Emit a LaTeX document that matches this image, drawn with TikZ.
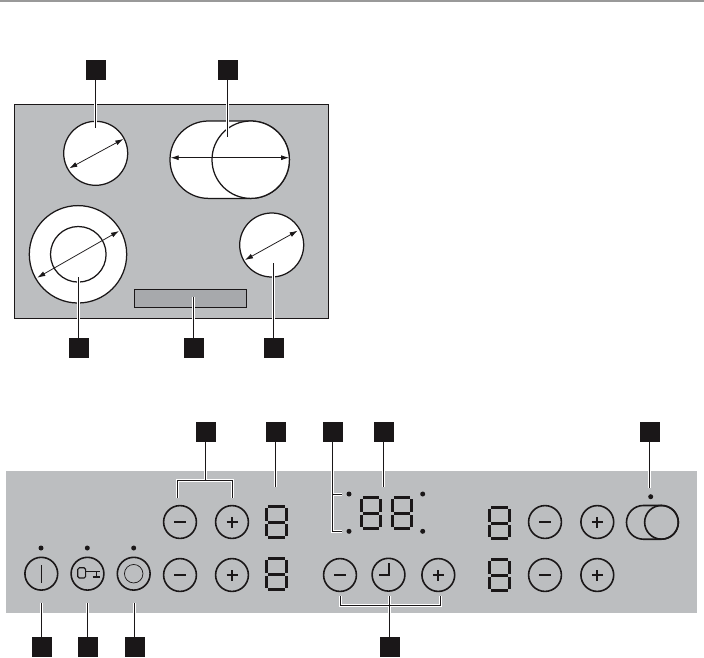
\documentclass[tikz,border=0pt]{standalone}
\usepackage{tikz}
\usetikzlibrary{arrows.meta}

\definecolor{panelgray}{HTML}{BCBEC0}
\definecolor{slotgray}{HTML}{A7A9AC}
\definecolor{rulegray}{HTML}{999999}
\definecolor{inkdark}{HTML}{1A1718}

\tikzset{
  callout/.style={draw=none, fill=inkdark, minimum size=20pt, inner sep=0pt, outer sep=0pt},
  zone/.style={circle, draw=inkdark, line width=1.25pt, fill=white, inner sep=0pt, outer sep=0pt},
  roundkey/.style={circle, draw=inkdark, line width=1.6pt, minimum size=32.8pt, inner sep=0pt, outer sep=0pt},
  minuskey/.style={roundkey, path picture={
    \draw[inkdark, line width=2pt] ([xshift=-5.7pt]path picture bounding box.center) -- ([xshift=5.7pt]path picture bounding box.center);}},
  pluskey/.style={roundkey, path picture={
    \draw[inkdark, line width=1.8pt] ([xshift=-5.5pt]path picture bounding box.center) -- ([xshift=5.5pt]path picture bounding box.center);
    \draw[inkdark, line width=1.8pt] ([yshift=-5.5pt]path picture bounding box.center) -- ([yshift=5.5pt]path picture bounding box.center);}},
  lamp/.style={circle, fill=inkdark, minimum size=5pt, inner sep=0pt, outer sep=0pt},
  leader/.style={draw=inkdark, line width=1pt, preaction={draw=white, line width=2.8pt}},
  sizearrow/.style={{Latex[length=8pt,width=5pt]}-{Latex[length=8pt,width=5pt]}, draw=inkdark, line width=0.75pt},
  digitface/.pic={
    \draw[inkdark, line width=2.6pt]
      (3,1.5) -- (20,1.5) (3,17.5) -- (20,17.5) (3,32.5) -- (20,32.5)
      (1.5,3) -- (1.5,15.5) (21.5,3) -- (21.5,15.5) (1.5,19) -- (1.5,31) (21.5,19) -- (21.5,31);
  }
}

\begin{document}
\begin{tikzpicture}[x=1pt, y=-1pt]
\useasboundingbox (0,0) rectangle (704,657);

% Rule along the top of the page
\fill[rulegray] (0,0) rectangle (704,2);

% Upper drawing: the glass surface and its zones
\draw[draw=inkdark, line width=1pt, fill=panelgray] (14.5,104.5) rectangle (328.5,318.5);
\draw[draw=inkdark, line width=1.25pt, fill=white, rounded corners=38.5pt] (170,121) rectangle (289.4,198.4);
\node[zone, minimum size=77.4pt] (zoneOval) at (250.7,159.7) {};
\node[zone, minimum size=64pt] (zoneSmallA) at (95.7,153.3) {};
\node[zone, minimum size=64pt] (zoneSmallB) at (271.7,245) {};
\node[zone, minimum size=97.4pt] (zoneBig) at (78,254.3) {};
\node[zone, minimum size=55.6pt] (zoneInner) at (78.3,254.3) {};
\node[draw=inkdark, line width=1pt, fill=slotgray, minimum width=112pt, minimum height=18pt, inner sep=0pt] (slot) at (190.5,298.5) {};

% Size arrows inside the zones
\coordinate (arrA1) at (69.3,168.3);
\coordinate (arrA2) at (123.3,139);
\coordinate (arrB1) at (170.7,157.7);
\coordinate (arrB2) at (289,157.7);
\coordinate (arrC1) at (37.3,277.7);
\coordinate (arrC2) at (119,231);
\coordinate (arrD1) at (245,260);
\coordinate (arrD2) at (297.7,230.7);
\draw[sizearrow] (arrA1) -- (arrA2);
\draw[sizearrow] (arrB1) -- (arrB2);
\draw[sizearrow] (arrC1) -- (arrC2);
\draw[sizearrow] (arrD1) -- (arrD2);

% Callouts of the upper drawing
\node[callout] (markA) at (95.5,70) {};
\node[callout] (markB) at (227.5,70) {};
\node[callout] (markC) at (78.5,348) {};
\node[callout] (markD) at (193.5,348) {};
\node[callout] (markE) at (273.5,348) {};
\coordinate (endA) at (95.5,127.7);
\coordinate (endB) at (227.5,136.7);
\coordinate (endC) at (78.5,276.7);
\coordinate (endD) at (193.5,296.7);
\coordinate (endE) at (273.5,263.3);
\draw[leader] (markA) -- (endA);
\draw[leader] (markB) -- (endB);
\draw[leader] (markC) -- (endC);
\draw[leader] (markD) -- (endD);
\draw[leader] (markE) -- (endE);

% Lower drawing: the control panel
\fill[panelgray] (6,471) rectangle (697,613);

% Left hand keys
\node[roundkey] (keyOn) at (41.3,573.7) {};
\draw[inkdark, line width=1.4pt] (41.5,565) -- (41.5,582.5);
\node[roundkey] (keyLock) at (87.5,573.7) {};
\draw[inkdark, line width=1.2pt, rounded corners=1.5pt] (77.8,567.8) rectangle (85.6,578);
\draw[inkdark, line width=1.2pt] (85.6,571.8) -- (99.5,571.8) (96.3,571.8) -- (96.3,576.8) (92.5,577) -- (100,577);
\node[roundkey] (keyRing) at (133.7,573.7) {};
\node[circle, draw=inkdark, line width=0.7pt, minimum size=18.5pt, inner sep=0pt] (keyRingIn) at (133.7,573.7) {};
\node[lamp] (lampOn) at (41,548) {};
\node[lamp] (lampLock) at (87.3,548) {};
\node[lamp] (lampRing) at (133.7,548) {};

% Zone keys and displays
\node[minuskey] (minusA) at (180,522) {};
\node[pluskey] (plusA) at (232,522) {};
\node[minuskey] (minusB) at (180,575) {};
\node[pluskey] (plusB) at (232,575) {};
\node[minuskey] (minusC) at (545,522) {};
\node[pluskey] (plusC) at (597.3,522) {};
\node[minuskey] (minusD) at (545,575) {};
\node[pluskey] (plusD) at (597.3,575) {};
\pic at (265,505) {digitface};
\pic at (265,557) {digitface};
\pic at (488,506) {digitface};
\pic at (488,558) {digitface};

% Timer display and keys
\pic[xscale=0.952] at (360,496) {digitface};
\pic[xscale=0.952] at (391,496) {digitface};
\node[lamp] (lampTimerA) at (349,494) {};
\node[lamp] (lampTimerB) at (349,531.3) {};
\node[lamp] (lampTimerC) at (422.7,494) {};
\node[lamp] (lampTimerD) at (422.7,531.3) {};
\node[minuskey] (minusT) at (340,575) {};
\node[roundkey] (keyClock) at (388.5,574.7) {};
\draw[inkdark, line width=1.3pt] (389,563.3) -- (389,575) -- (379,575);
\node[pluskey] (plusT) at (438.3,575) {};

% Key for the double zone, far right
\draw[draw=inkdark, line width=1.6pt, rounded corners=16.8pt] (626.5,505.5) rectangle (678.3,539.2);
\node[roundkey, minimum size=33.7pt] (keyDual) at (661.5,522.3) {};
\node[lamp] (lampDual) at (650.7,496.7) {};

% Callouts of the lower drawing
\node[callout] (markF) at (205.5,432) {};
\node[callout] (markG) at (275.5,432) {};
\node[callout] (markH) at (332.5,432) {};
\node[callout] (markI) at (383.5,432) {};
\node[callout] (markJ) at (649.5,432) {};
\node[callout] (markK) at (41.5,646.7) {};
\node[callout] (markL) at (87.5,646.7) {};
\node[callout] (markM) at (134.5,646.7) {};
\node[callout] (markN) at (389.5,646.7) {};

\coordinate (jointF) at (205.5,480.5);
\coordinate (endFa) at (177.5,497.7);
\coordinate (endFb) at (232.5,497.7);
\draw[leader] (markF) -- (jointF) (endFa) |- (jointF) -| (endFb);

\coordinate (endG) at (275.5,487.3);
\draw[leader] (markG) -- (endG);

\coordinate (jointH) at (332.5,494.5);
\coordinate (endHa) at (342,494.5);
\coordinate (endHb) at (342,531.5);
\draw[leader] (markH) |- (endHb) (jointH) -- (endHa);

\coordinate (endI) at (383.5,487.3);
\draw[leader] (markI) -- (endI);

\coordinate (endJ) at (649.5,487.7);
\draw[leader] (markJ) -- (endJ);

\coordinate (endK) at (41.5,603.3);
\coordinate (endL) at (87.5,603.3);
\coordinate (endM) at (134.5,603.3);
\draw[leader] (markK) -- (endK);
\draw[leader] (markL) -- (endL);
\draw[leader] (markM) -- (endM);

\coordinate (jointN) at (389.5,605.5);
\coordinate (endNa) at (340.5,596);
\coordinate (endNb) at (389.5,596);
\coordinate (endNc) at (440.5,596);
\draw[leader] (markN) -- (endNb) (endNa) |- (jointN) -| (endNc);
\end{tikzpicture}
\end{document}
